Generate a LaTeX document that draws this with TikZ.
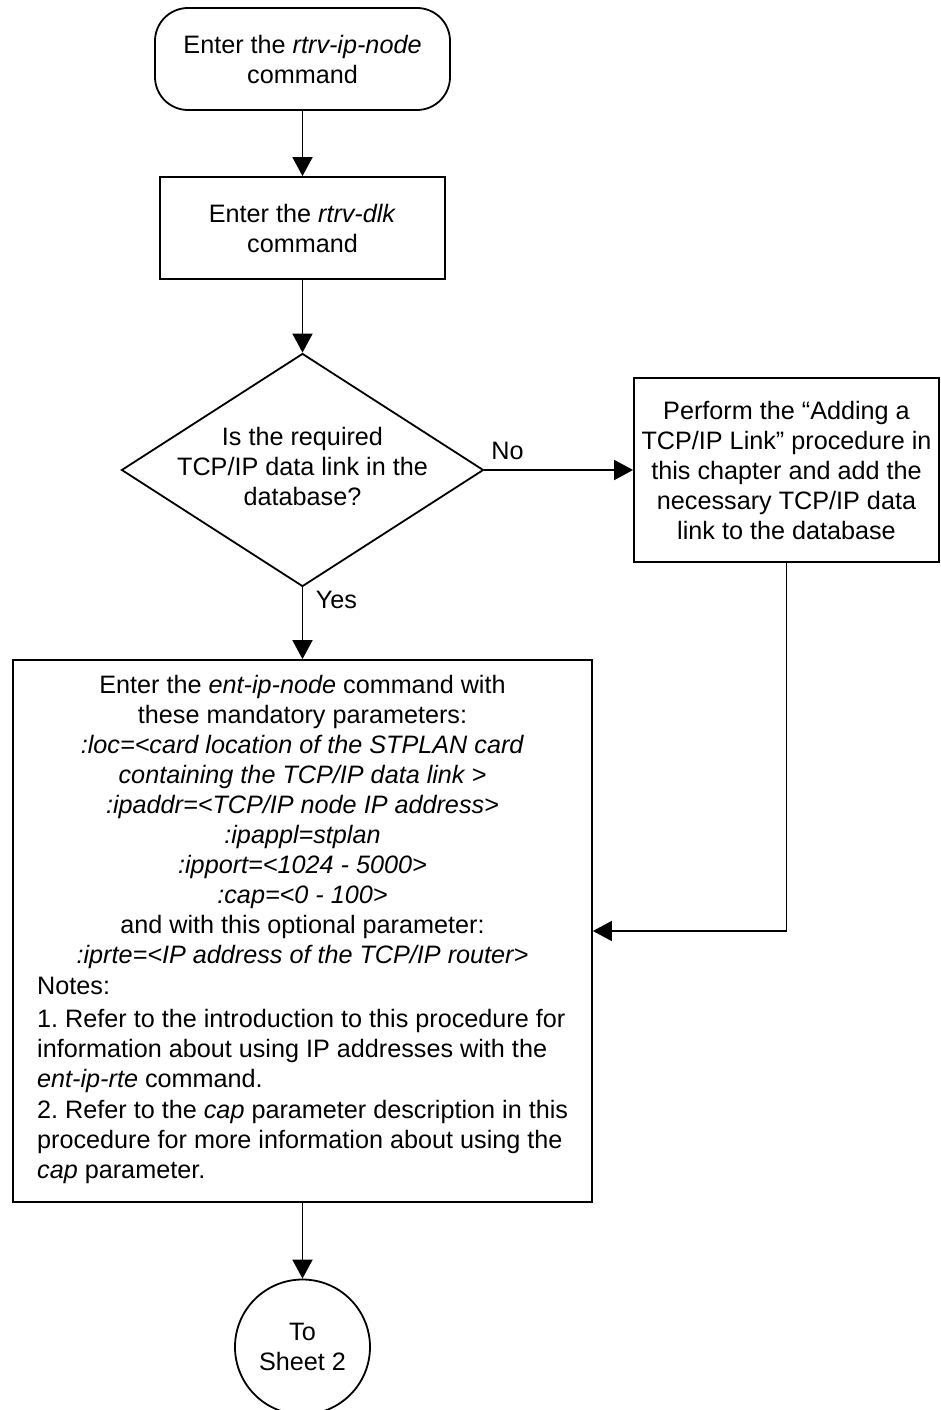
\documentclass[tikz,border=0pt]{standalone}
\usepackage{fontspec}
\setmainfont{Liberation Sans}
\usetikzlibrary{arrows.meta,shapes.geometric}
\begin{document}
\begin{tikzpicture}[x=1pt,y=-1pt,
  every node/.style={font=\fontsize{25.2pt}{30pt}\selectfont\frenchspacing, inner sep=0pt},
  arr/.style={line width=1.8pt, -{Triangle[width=20pt,length=19pt]}},
  box/.style={draw, line width=1.8pt, rectangle, align=center},
]
\useasboundingbox (0,0) rectangle (941,1410);

\node[box, rounded corners=33pt, minimum width=295pt, minimum height=102pt] (start) at (302.5,59)
  {Enter the \textit{rtrv-ip-node}\\command};

\node[box, minimum width=285pt, minimum height=102pt] (dlk) at (302.5,228)
  {Enter the \textit{rtrv-dlk}\\command};

\node[draw, line width=1.8pt, diamond, minimum width=362pt, minimum height=233pt] (dec) at (302.5,470) {};
\node[align=center] (dectxt) at ([yshift=4pt]dec.center)
  {Is the required\\TCP/IP data link in the\\database?};

\node[box, minimum width=305pt, minimum height=184pt] (add) at (786.5,470)
  {Perform the “Adding a\\TCP/IP Link” procedure in\\this chapter and add the\\necessary TCP/IP data\\link to the database};

\node[draw, line width=1.8pt, rectangle, minimum width=579pt, minimum height=542pt] (ent) at (302.5,931) {};
\node[anchor=base, align=center] (enttxt) at (302.5,963)
  {Enter the \textit{ent-ip-node} command with\\
   these mandatory parameters:\\
   \textit{:loc=<card location of the STPLAN card}\\
   \textit{containing the TCP/IP data link >}\\
   \textit{:ipaddr=<TCP/IP node IP address>}\\
   \textit{:ipappl=stplan}\\
   \textit{:ipport=<1024 - 5000>}\\
   \textit{:cap=<0 - 100>}\\
   and with this optional parameter:\\
   \textit{:iprte=<IP address of the TCP/IP router>}};
\node[anchor=base west, align=left] (notes) at (37,1178)
  {Notes:\\[3pt]
   1. Refer to the introduction to this procedure for\\
   information about using IP addresses with the\\
   \textit{ent-ip-rte} command.\\[1pt]
   2. Refer to the \textit{cap} parameter description in this\\
   procedure for more information about using the\\
   \textit{cap} parameter.};

\node[draw, line width=1.8pt, circle, minimum size=135pt, align=center] (sheet) at (302.5,1347)
  {To\\Sheet 2};

\draw[arr] (start) -- (dlk);
\draw[arr] (dlk) -- (dec);
\draw[arr] (dec.east) -- node[pos=0, anchor=south west, xshift=6pt, yshift=9pt] (nolbl) {No} (add.west);
\draw[arr] (dec.south) -- node[pos=0, anchor=north west, xshift=12.5pt, yshift=-3pt] (yeslbl) {Yes} (ent.north);
\draw[arr] (add.south) |- (ent.east);
\draw[arr] (ent) -- (sheet);
\end{tikzpicture}
\end{document}
